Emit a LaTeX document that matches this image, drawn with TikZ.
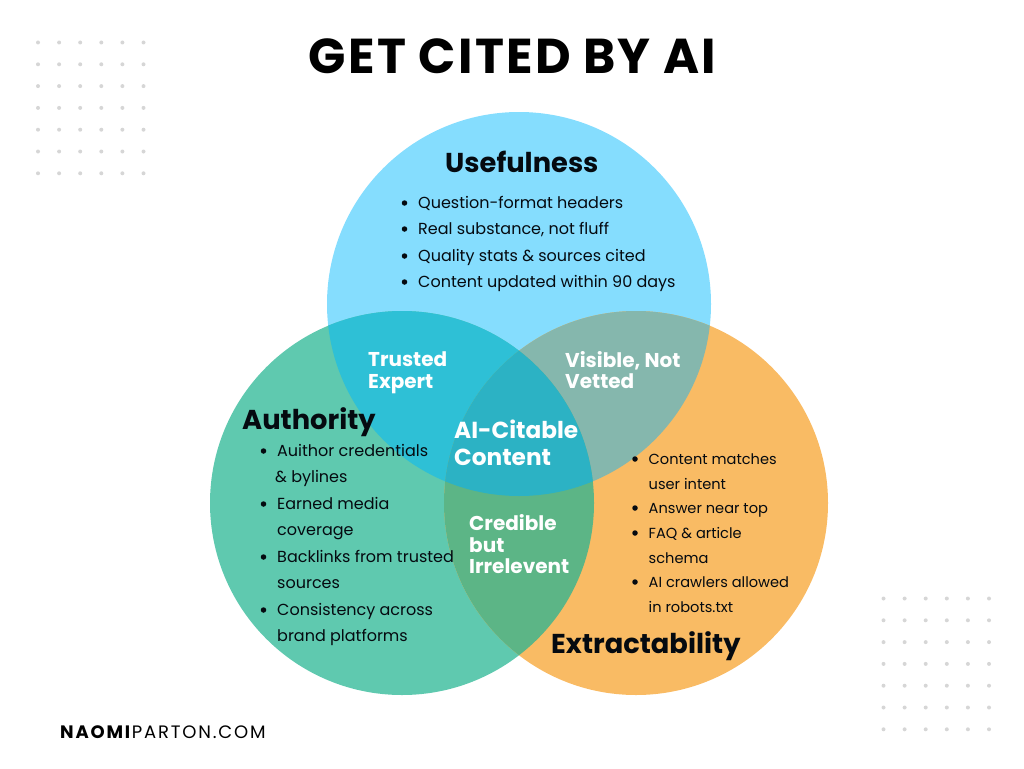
\documentclass[tikz,border=0pt]{standalone}
\usepackage{fontspec}
\setmainfont{Poppins}
\newfontfamily\spaced[LetterSpace=10]{Poppins}
\definecolor{useblue}{HTML}{85DDFE}
\definecolor{authgreen}{HTML}{5FC9AF}
\definecolor{extorange}{HTML}{F9BB64}
\definecolor{trustcol}{HTML}{2EC0D6}
\definecolor{visiblecol}{HTML}{85B7AD}
\definecolor{crediblecol}{HTML}{5CB586}
\definecolor{citablecol}{HTML}{2CB2C4}
\definecolor{inkcol}{HTML}{050A10}
\definecolor{dotcol}{HTML}{D6D6D6}
\tikzset{
	heading/.style={font=\bfseries\fontsize{27.3}{27.3}\selectfont, text=inkcol, anchor=base west, inner sep=0pt},
	item/.style={font=\fontsize{16}{16}\selectfont, text=inkcol, anchor=base west, inner sep=0pt},
	smallitem/.style={item, font=\fontsize{14.6}{14.6}\selectfont},
	overlap/.style={font=\bfseries\fontsize{20}{20}\selectfont, text=white, anchor=base west, inner sep=0pt},
	bigoverlap/.style={overlap, font=\bfseries\fontsize{23.2}{23.2}\selectfont},
	bullet/.style={circle, fill=inkcol, inner sep=0pt, minimum size=5.5pt},
	griddot/.style={circle, fill=dotcol, inner sep=0pt, minimum size=4pt}
}
\begin{document}
\begin{tikzpicture}[x=1pt,y=-1pt]
	\useasboundingbox (0,0) rectangle (1024,768);
	% circles
	\fill[useblue] (519,304) circle (192);
	\fill[authgreen] (402,503) circle (192);
	\fill[extorange] (636,503) circle (192);
	% overlaps
	\begin{scope}
		\clip (519,304) circle (192);
		\fill[trustcol] (402,503) circle (192);
		\fill[visiblecol] (636,503) circle (192);
	\end{scope}
	\begin{scope}
		\clip (402,503) circle (192);
		\fill[crediblecol] (636,503) circle (192);
		\clip (636,503) circle (192);
		\fill[citablecol] (519,304) circle (192);
	\end{scope}
	% dot grids
	\foreach \i in {0,...,5}
		\foreach \j in {0,...,6} {
			\node[griddot] (dotA\i\j) at (38+21.1*\i,42.5+21.8*\j) {};
			\node[griddot] (dotB\i\j) at (883.5+21.1*\i,598.5+21.8*\j) {};
		}
	% title and footer
	\node[font=\bfseries\fontsize{49}{49}\selectfont\addfontfeature{LetterSpace=4.6}, text=black, inner sep=0pt, anchor=base] (title) at (512.5,73.5) {GET CITED BY AI};
	\node[font=\fontsize{18}{18}\selectfont\spaced, text=black, inner sep=0pt, anchor=base west] (footer) at (60,738) {\textbf{NAOMI}PARTON.COM};
	% usefulness
	\node[heading] (useful) at (445,172) {Usefulness};
	\foreach \n/\y/\t in {1/208/Question-format headers,2/234/{Real substance, not fluff},3/261/Quality stats \& sources cited,4/287/Content updated within 90 days} {
		\node[item] (useT\n) at (418,\y) {\t};
		\node[bullet] (useB\n) at (404.5,\y-5) {};
	}
	% authority
	\node[heading] (auth) at (242,429) {Authority};
	\foreach \n/\y/\t in {1/456/Auithor credentials,3/509/Earned media,5/562/Backlinks from trusted,7/615/Consistency across} {
		\node[item] (authT\n) at (277,\y) {\t};
		\node[bullet] (authB\n) at (263.5,\y-5) {};
	}
	\node[item] (authT2) at (275,482) {\&~bylines};
	\node[item] (authT4) at (277,535) {coverage};
	\node[item] (authT6) at (277,588) {sources};
	\node[item] (authT8) at (277,641) {brand platforms};
	% extractability
	\node[heading] (extract) at (551,653) {Extractability};
	\foreach \n/\y/\t in {1/464/Content matches,3/513/Answer near top,4/538/FAQ \& article,6/587/AI crawlers allowed} {
		\node[smallitem] (extT\n) at (648.5,\y) {\t};
		\node[bullet] (extB\n) at (635,\y-5) {};
	}
	\node[smallitem] (extT2) at (648.5,489) {user intent};
	\node[smallitem] (extT5) at (648.5,563) {schema};
	\node[smallitem] (extT7) at (648.5,612) {in robots.txt};
	% overlap labels
	\node[overlap] (trust1) at (368,366.5) {Trusted};
	\node[overlap] (trust2) at (368,388) {Expert};
	\node[overlap] (vis1) at (565,367) {Visible, Not};
	\node[overlap] (vis2) at (565,388.5) {Vetted};
	\node[bigoverlap] (cit1) at (454,438.5) {AI-Citable};
	\node[bigoverlap] (cit2) at (454,465) {Content};
	\node[overlap] (cred1) at (469,530) {Credible};
	\node[overlap] (cred2) at (469,552) {but};
	\node[overlap] (cred3) at (469,573) {Irrelevent};
\end{tikzpicture}
\end{document}
